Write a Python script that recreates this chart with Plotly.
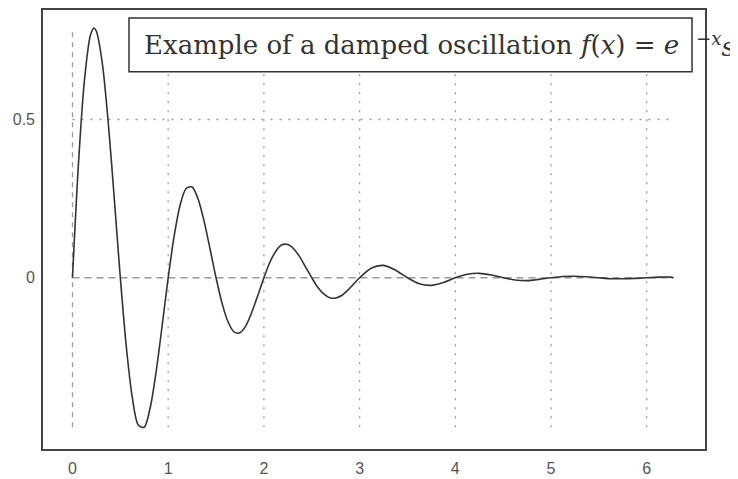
import plotly.graph_objects as go

# Sample points
x_vals = [0, 0.0625, 0.125, 0.1875, 0.225, 0.25, 0.3125, 0.375, 0.4375,
          0.5, 0.5625, 0.625, 0.6875, 0.75, 0.8125, 0.875, 0.9375,
          1.0, 1.0625, 1.125, 1.1875, 1.25, 1.3125, 1.375, 1.4375,
          1.5, 1.5625, 1.625, 1.6875, 1.75, 1.8125, 1.875, 1.9375,
          2.0, 2.0625, 2.125, 2.1875, 2.25, 2.3125, 2.375, 2.4375,
          2.5, 2.5625, 2.625, 2.6875, 2.75, 2.8125, 2.875, 2.9375,
          3.0, 3.125, 3.25, 3.375, 3.5, 3.625, 3.75, 3.875,
          4.0, 4.125, 4.25, 4.375, 4.5, 4.625, 4.75, 4.875,
          5.0, 5.125, 5.25, 5.375, 5.5, 5.625, 5.75, 5.875,
          6.0, 6.125, 6.25, 6.28]
y_vals = [0, 0.360, 0.624, 0.766, 0.789, 0.779, 0.676, 0.486, 0.247,
          0, -0.218, -0.378, -0.465, -0.472, -0.410, -0.295, -0.150,
          0, 0.132, 0.230, 0.282, 0.287, 0.249, 0.179, 0.091,
          0, -0.080, -0.139, -0.171, -0.174, -0.151, -0.108, -0.055,
          0, 0.049, 0.084, 0.104, 0.105, 0.091, 0.066, 0.033,
          0, -0.030, -0.051, -0.063, -0.064, -0.056, -0.040, -0.020,
          0, 0.031, 0.039, 0.024, 0, -0.019, -0.024, -0.015,
          0, 0.011, 0.014, 0.009, 0, -0.007, -0.009, -0.005,
          0, 0.004, 0.005, 0.003, 0, -0.003, -0.003, -0.002,
          0, 0.002, 0.002, 0]

x_ticks = [0, 1, 2, 3, 4, 5, 6]
x_tick_labels = ["0", "1", "2", "3", "4", "5", "6"]
y_ticks = [0, 0.5]
y_tick_labels = ["0", "0.5"]

title_main = "Example of a damped oscillation <i>f</i>(<i>x</i>) = <i>e</i>"
title_tail = "<i><sup>−x</sup>s</i>"

fig = go.Figure()

ymin, ymax = min(y_vals), max(y_vals)
xmin, xmax = min(x_vals), max(x_vals)

shapes = []
# vertical grid lines
for t in x_ticks:
    shapes.append(dict(type="line", xref="x", yref="y", x0=t, x1=t, y0=ymin, y1=ymax,
                       line=dict(color="#9a9a9a", width=1.3,
                                 dash="5px,5px" if t == 0 else "2px,7px"), layer="below"))
# horizontal grid lines
for t in y_ticks:
    shapes.append(dict(type="line", xref="x", yref="y", x0=xmin, x1=xmax, y0=t, y1=t,
                       line=dict(color="#9a9a9a", width=1.3,
                                 dash="7px,5px" if t == 0 else "2px,7px"), layer="below"))
# title box
shapes.append(dict(type="rect", xref="paper", yref="paper", x0=0.1299, x1=0.9804,
                   y0=0.8594, y1=0.9819, line=dict(color="#333333", width=1.5),
                   fillcolor="white", layer="above"))

fig.add_trace(go.Scatter(x=x_vals, y=y_vals, mode="lines",
                         line=dict(color="#333333", width=1.6, shape="spline", smoothing=0.8),
                         showlegend=False, hoverinfo="skip"))

tick_font = dict(family="Liberation Sans, Arial", size=16, color="#555555")
fig.update_layout(
    width=730, height=471,
    margin=dict(l=35, r=33, t=0, b=30),
    paper_bgcolor="white", plot_bgcolor="white",
    shapes=shapes,
    xaxis=dict(range=[-0.308, 6.609], tickvals=x_ticks, ticktext=x_tick_labels,
               showgrid=False, zeroline=False, showline=True, mirror=True,
               linecolor="#444444", linewidth=1.6, ticks="", ticklabelstandoff=4,
               tickfont=tick_font),
    yaxis=dict(range=[-0.541, 0.846], tickvals=y_ticks, ticktext=y_tick_labels,
               showgrid=False, zeroline=False, showline=True, mirror=True,
               linecolor="#444444", linewidth=1.6, ticks="", ticklabelstandoff=3,
               tickfont=tick_font),
    annotations=[
        dict(xref="paper", yref="paper", x=0.150, y=0.9206,
             xanchor="left", yanchor="middle", text=title_main, showarrow=False,
             font=dict(family="DejaVu Serif", size=26, color="#333333")),
        dict(xref="paper", yref="paper", x=0.9834, y=0.9206,
             xanchor="left", yanchor="middle", text=title_tail, showarrow=False,
             font=dict(family="DejaVu Serif", size=26, color="#333333")),
    ],
)

fig.write_html("out.html")
